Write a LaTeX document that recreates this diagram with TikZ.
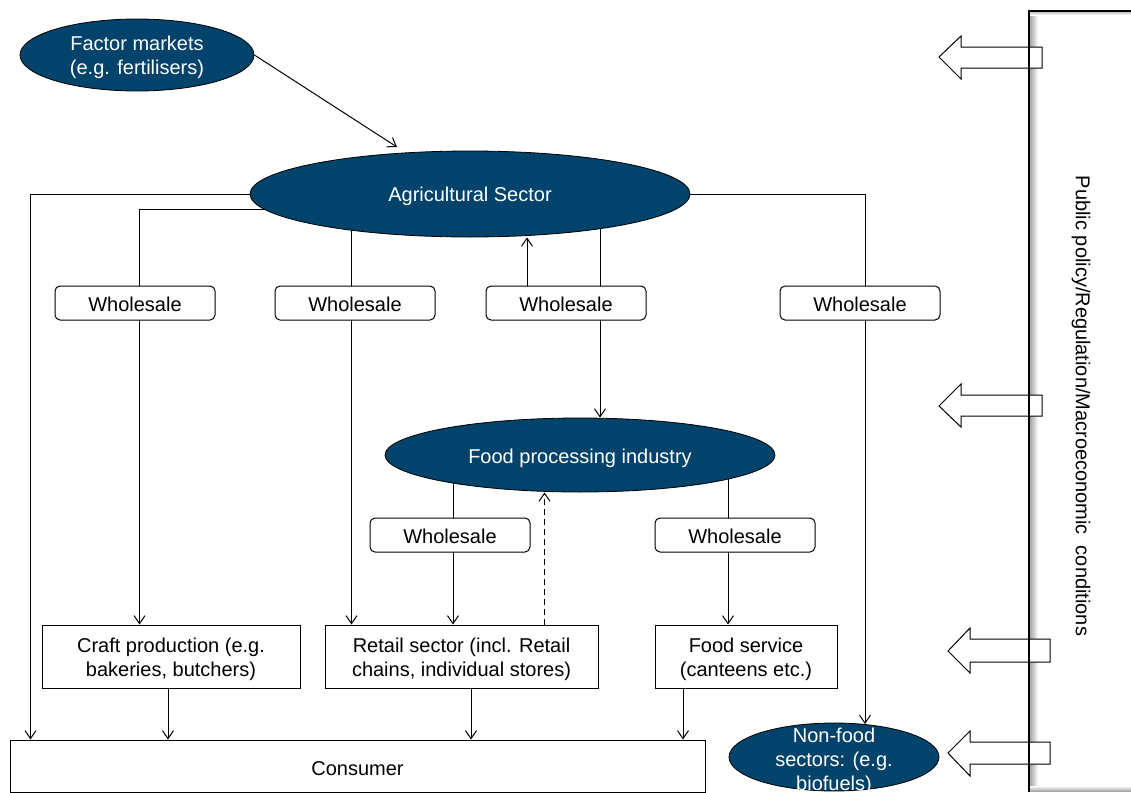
\documentclass[tikz,border=0pt]{standalone}
\usepackage{fontspec}
\setmainfont{Liberation Sans}
\usetikzlibrary{shapes.geometric,arrows.meta,calc,backgrounds}
\definecolor{navy}{RGB}{2,67,107}
\begin{document}
\begin{tikzpicture}[x=0.5pt,y=-0.5pt,
  font=\fontsize{10}{12}\selectfont,
  oval/.style={ellipse,draw=black,line width=0.4pt,fill=navy,inner sep=0pt},
  ovaltext/.style={text=white,align=center,inner sep=0pt},
  lbl/.style={align=center,inner sep=0pt,yshift=-1.5pt},
  whole/.style={draw,rounded corners=2.5pt,fill=white,minimum width=80pt,minimum height=17pt,inner sep=0pt,line width=0.5pt,label={[lbl,yshift=1pt]center:Wholesale}},
  sbox/.style={draw,fill=white,inner sep=0pt,line width=0.5pt},
  arr/.style={-{Straight Barb[length=4pt,width=5.5pt]},line width=0.5pt},
  blockarrow/.style={draw,fill=white,line width=0.5pt}]
\useasboundingbox (0,0) rectangle (1131,793);

% policy panel
\shade[left color=black!35,right color=white] (1030,11) rectangle (1038,790);
\shade[top color=black!30,bottom color=white] (1030,11) rectangle (1140,15);
\shade[top color=white,bottom color=black!35] (1030,786) rectangle (1140,791);
\draw[blockarrow] (939,57) -- (961,36) -- (961,47) -- (1042,47) -- (1042,68) -- (961,68) -- (961,79) -- cycle;
\draw[blockarrow] (939,406) -- (961,384) -- (961,395) -- (1042,395) -- (1042,416) -- (961,416) -- (961,427) -- cycle;
\draw[blockarrow] (948,651) -- (970,628) -- (970,639) -- (1050,639) -- (1050,662) -- (970,662) -- (970,673) -- cycle;
\draw[blockarrow] (948,753) -- (970,731) -- (970,742) -- (1050,742) -- (1050,764) -- (970,764) -- (970,776) -- cycle;
\draw[line width=0.6pt] (1029,792) -- (1029,11) -- (1140,11);
\node[rotate=-90,inner sep=0pt] (pol) at (1081,406) {Public policy/Regulation/Macroeconomic\ \ conditions};

% ellipses
\node[oval,minimum width=117pt,minimum height=36pt] (fm) at (137,55) {};
\node[ovaltext] (fmt) at (137,57) {Factor markets\\(e.g. fertilisers)};
\node[oval,minimum width=220pt,minimum height=43pt] (agri) at (470,194) {};
\node[ovaltext] (agrit) at (470,196) {Agricultural Sector};
\node[oval,minimum width=195pt,minimum height=37pt] (fp) at (580,455) {};
\node[ovaltext] (fpt) at (580,458) {Food processing industry};
\node[oval,minimum width=105pt,minimum height=34pt] (nonfood) at (834,757) {};
\node[ovaltext] (nonfoodt) at (834,761) {Non-food\\sectors: (e.g.\\biofuels)};

% wholesale boxes
\node[whole] (w1) at (135,303) {};
\node[whole] (w2) at (355,303) {};
\node[whole] (w3) at (566,303) {};
\node[whole] (w4) at (860,303) {};
\node[whole] (w5) at (450,535) {};
\node[whole] (w6) at (735,535) {};

% boxes
\node[sbox,minimum width=129pt,minimum height=31.5pt,label={[lbl]center:Craft production (e.g.\\bakeries, butchers)}] (craft) at (171,656.5) {};
\node[sbox,minimum width=136.5pt,minimum height=31.5pt,label={[lbl]center:Retail sector (incl. Retail\\chains, individual stores)}] (retail) at (461.5,656.5) {};
\node[sbox,minimum width=91pt,minimum height=31.5pt,label={[lbl]center:Food service\\(canteens etc.)}] (fserv) at (746,656.5) {};
\node[sbox,minimum width=347.5pt,minimum height=26pt,label={[lbl]center:Consumer}] (consumer) at (357.5,766) {};

% helper coordinates
\coordinate (cons1) at ($(consumer.north west)+(21,0)$);
\coordinate (agriL) at ($(agri.center)+(0,15)$);
\coordinate (craftIn) at ($(craft.north west)+(98,0)$);
\coordinate (retIn) at ($(retail.north west)+(27,0)$);
\coordinate (w3up) at ($(w3.north)+(-39,0)$);
\coordinate (fpIn) at ($(fp.center)+(20,0)$);
\coordinate (nfIn) at ($(nonfood.center)+(31,-33)$);
\coordinate (fpL) at ($(fp.center)+(-127,0)$);
\coordinate (retUp) at ($(retail.north west)+(220,0)$);
\coordinate (fpR) at ($(fp.center)+(148,0)$);
\coordinate (craftOut) at ($(craft.south)+(-3,0)$);
\coordinate (retOut) at ($(retail.south)+(9.5,0)$);
\coordinate (fsOut) at ($(fserv.south)+(-63,0)$);
\coordinate (agriIn) at ($(agri.center)+(-73,-47)$);

% connectors
\begin{scope}[on background layer]
\draw[arr] (agri.center) -| (cons1);
\draw[arr] (agriL) -| (craftIn);
\draw[arr] (retIn |- agri.center) -- (retIn);
\draw[arr] (w3up) -- (w3up |- agri.south);
\draw[arr] (fpIn |- agri.center) -- (fpIn |- fp.north);
\draw[arr] (agri.center) -| (nfIn);
\draw[arr] (fpL) -- (fpL |- retail.north);
\draw[arr,dash pattern=on 3pt off 2pt] (retUp) -- (retUp |- fp.south);
\draw[arr] (fpR) -- (fpR |- fserv.north);
\draw[arr] (craftOut) -- (craftOut |- consumer.north);
\draw[arr] (retOut) -- (retOut |- consumer.north);
\draw[arr] (fsOut) -- (fsOut |- consumer.north);
\draw[arr] (fm.east) -- (agriIn);
\end{scope}
\end{tikzpicture}
\end{document}
